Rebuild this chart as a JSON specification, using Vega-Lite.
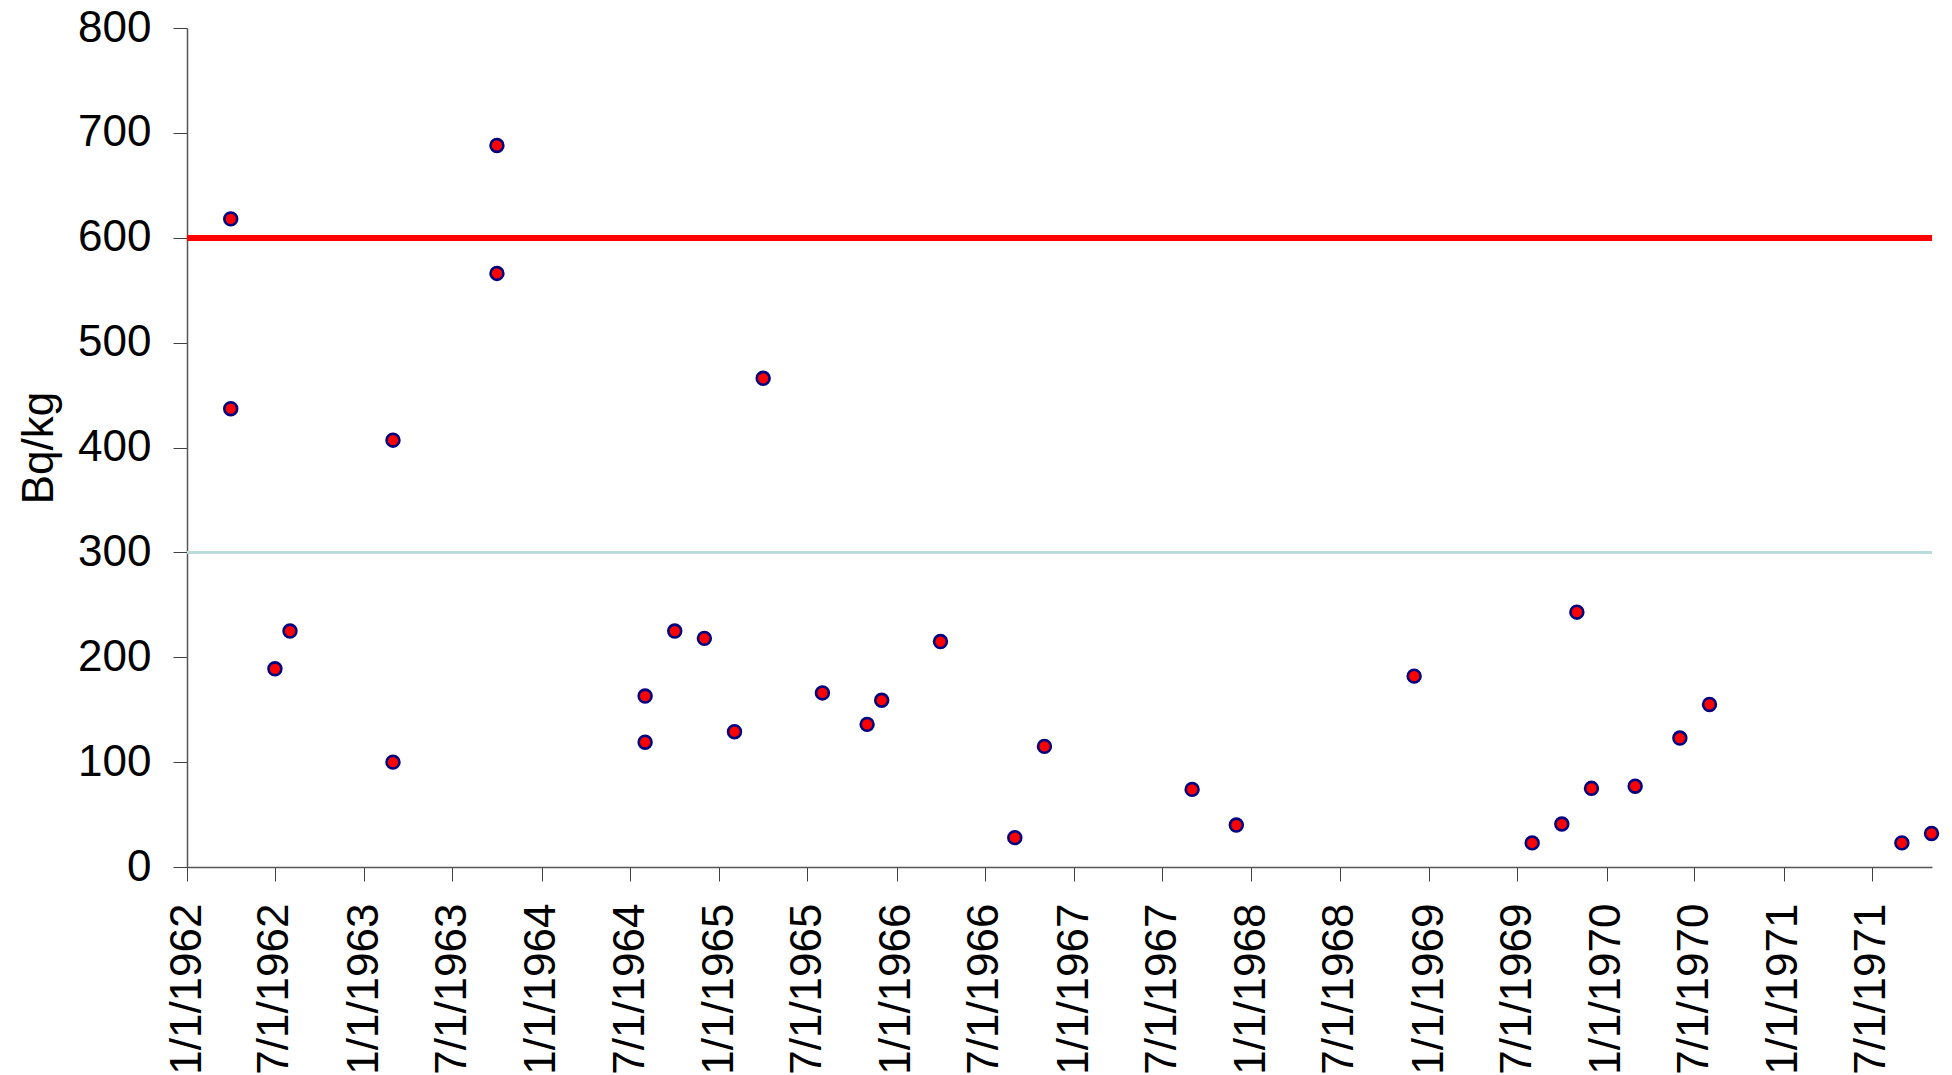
{
  "$schema": "https://vega.github.io/schema/vega-lite/v6.json",
  "autosize": "none",
  "width": 1745,
  "height": 839,
  "padding": {"left": 187, "top": 28, "right": 20, "bottom": 208},
  "background": "white",
  "config": {
    "view": {"stroke": null},
    "font": "Liberation Sans",
    "axis": {"labelFont": "Liberation Sans", "titleFont": "Liberation Sans"}
  },
  "data": {
    "values": [
      {"date": "1962-04-01", "value": 618},
      {"date": "1962-04-01", "value": 437},
      {"date": "1962-07-01", "value": 189},
      {"date": "1962-08-01", "value": 225},
      {"date": "1963-03-01", "value": 407},
      {"date": "1963-03-01", "value": 100},
      {"date": "1963-10-01", "value": 688},
      {"date": "1963-10-01", "value": 566},
      {"date": "1964-08-01", "value": 163},
      {"date": "1964-08-01", "value": 119},
      {"date": "1964-10-01", "value": 225},
      {"date": "1964-12-01", "value": 218},
      {"date": "1965-02-01", "value": 129},
      {"date": "1965-04-01", "value": 466},
      {"date": "1965-08-01", "value": 166},
      {"date": "1965-11-01", "value": 136},
      {"date": "1965-12-01", "value": 159},
      {"date": "1966-04-01", "value": 215},
      {"date": "1966-09-01", "value": 28},
      {"date": "1966-11-01", "value": 115},
      {"date": "1967-09-01", "value": 74},
      {"date": "1967-12-01", "value": 40},
      {"date": "1968-12-01", "value": 182},
      {"date": "1969-08-01", "value": 23},
      {"date": "1969-10-01", "value": 41},
      {"date": "1969-11-01", "value": 243},
      {"date": "1969-12-01", "value": 75},
      {"date": "1970-03-01", "value": 77},
      {"date": "1970-06-01", "value": 123},
      {"date": "1970-08-01", "value": 155},
      {"date": "1971-09-01", "value": 23},
      {"date": "1971-11-01", "value": 32}
    ]
  },
  "layer": [
    {
      "mark": {"type": "rule", "color": "#bcdcdc", "strokeWidth": 2},
      "encoding": {"y": {"datum": 300, "type": "quantitative", "scale": {"domain": [0, 800]}}}
    },
    {
      "mark": {"type": "rule", "color": "#ff0000", "strokeWidth": 5},
      "encoding": {"y": {"datum": 600, "type": "quantitative"}}
    },
    {
      "mark": {"type": "point", "shape": "circle", "filled": true, "fill": "#ff0000", "stroke": "#000080", "strokeWidth": 2.6, "size": 165, "opacity": 1},
      "encoding": {
        "x": {
          "field": "date",
          "type": "temporal",
          "scale": {
            "type": "utc",
            "domain": [
              {"year": 1962, "month": 1, "date": 1, "utc": true},
              {"year": 1971, "month": 11, "date": 2, "utc": true}
            ]
          },
          "axis": {
            "title": null,
            "grid": false,
            "format": "%-m/%-d/%Y",
            "values": [
              {"year": 1962, "month": 1, "date": 1, "utc": true},
              {"year": 1962, "month": 7, "date": 1, "utc": true},
              {"year": 1963, "month": 1, "date": 1, "utc": true},
              {"year": 1963, "month": 7, "date": 1, "utc": true},
              {"year": 1964, "month": 1, "date": 1, "utc": true},
              {"year": 1964, "month": 7, "date": 1, "utc": true},
              {"year": 1965, "month": 1, "date": 1, "utc": true},
              {"year": 1965, "month": 7, "date": 1, "utc": true},
              {"year": 1966, "month": 1, "date": 1, "utc": true},
              {"year": 1966, "month": 7, "date": 1, "utc": true},
              {"year": 1967, "month": 1, "date": 1, "utc": true},
              {"year": 1967, "month": 7, "date": 1, "utc": true},
              {"year": 1968, "month": 1, "date": 1, "utc": true},
              {"year": 1968, "month": 7, "date": 1, "utc": true},
              {"year": 1969, "month": 1, "date": 1, "utc": true},
              {"year": 1969, "month": 7, "date": 1, "utc": true},
              {"year": 1970, "month": 1, "date": 1, "utc": true},
              {"year": 1970, "month": 7, "date": 1, "utc": true},
              {"year": 1971, "month": 1, "date": 1, "utc": true},
              {"year": 1971, "month": 7, "date": 1, "utc": true}
            ],
            "labelAngle": 270,
            "labelAlign": "right",
            "labelBaseline": "middle",
            "labelFontSize": 44,
            "labelColor": "#000000",
            "labelPadding": 22,
            "labelOverlap": false,
            "labelBound": false,
            "labelFlush": false,
            "tickSize": 14,
            "tickColor": "#404040",
            "domainColor": "#555555",
            "domainWidth": 1.5
          }
        },
        "y": {
          "field": "value",
          "type": "quantitative",
          "scale": {"domain": [0, 800], "nice": false, "zero": true},
          "axis": {
            "title": "Bq/kg",
            "titleFontSize": 44,
            "titleFontWeight": "normal",
            "titleColor": "#000000",
            "titlePadding": 16,
            "grid": false,
            "values": [0, 100, 200, 300, 400, 500, 600, 700, 800],
            "labelFontSize": 44,
            "labelColor": "#000000",
            "labelPadding": 22,
            "labelBound": false,
            "labelFlush": false,
            "labelOverlap": false,
            "tickSize": 14,
            "tickColor": "#404040",
            "domainColor": "#555555",
            "domainWidth": 1.5
          }
        }
      }
    }
  ]
}
